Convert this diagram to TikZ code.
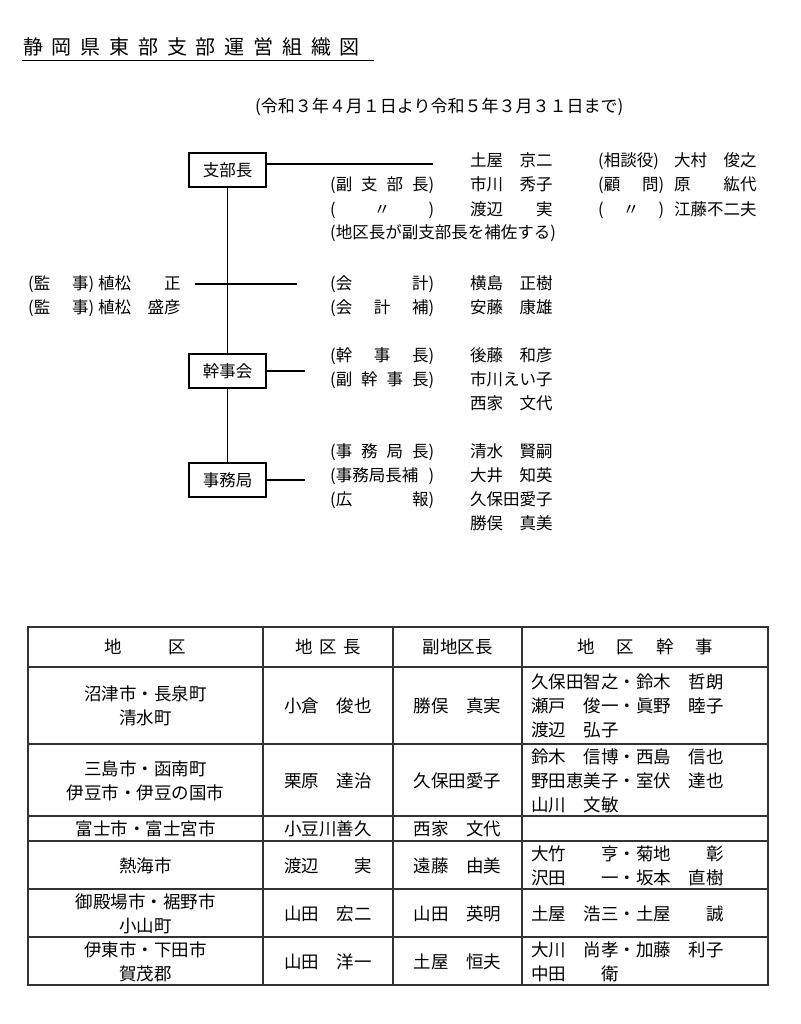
\documentclass[tikz,border=0pt]{standalone}
\usepackage{fontspec}
\setmainfont{Noto Sans CJK JP}

\newcommand*{\orgfont}{\fontsize{16.5}{24}\selectfont}
\newcommand*{\tabfont}{\fontsize{17.5}{24}\selectfont}
\newcommand*{\titlefont}{\fontsize{20}{24}\selectfont}
\newcommand*{\postlbl}[1]{\makebox[6.3em][s]{#1}}
\newcommand*{\sidelbl}[1]{\makebox[4em][s]{#1}}

% table grid
\newcommand*{\tabL}{28}
\newcommand*{\tabA}{263}
\newcommand*{\tabB}{393}
\newcommand*{\tabC}{522}
\newcommand*{\tabR}{768}
\newcommand*{\tabT}{627}
\newcommand*{\tabBot}{985}

\begin{document}
\begin{tikzpicture}
[
	x=1pt, y=-1pt,
	orgbox/.style={draw,line width=1.2pt,minimum width=77pt,minimum height=34pt,inner sep=0pt,font=\orgfont},
	txt/.style={anchor=base west,inner sep=0pt,font=\orgfont},
	titlech/.style={anchor=base,inner sep=0pt,font=\titlefont},
	tabtxt/.style={anchor=base west,inner sep=0pt,font=\tabfont},
	tabmid/.style={anchor=base,inner sep=0pt,font=\tabfont},
	conn/.style={line width=1.2pt},
	grid/.style={line width=1.2pt,black!80}
]

	\useasboundingbox (0,0) rectangle (800,1024);

	% title
	\foreach \ch [count=\i from 0] in {静,岡,県,東,部,支,部,運,営,組,織,図}
		\node[titlech] (title\i) at (33+28.8*\i,54.6) {\ch};
	\coordinate (ul-l) at (22,60.5);
	\coordinate (ul-r) at (374,60.5);
	\draw[conn] (ul-l) -- (ul-r);

	\node[txt,font=\fontsize{17}{24}\selectfont] (term) at (255,113) {(令和３年４月１日より令和５年３月３１日まで)};

	% boxes
	\node[orgbox] (shibucho) at (227.5,170) {支部長};
	\node[orgbox] (kanjikai) at (227.5,371) {幹事会};
	\node[orgbox] (jimukyoku) at (227.5,480) {事務局};

	% connectors
	\coordinate (shibu-end) at (433,164);
	\coordinate (kansa-end) at (195,284);
	\coordinate (kaikei-end) at (297,284);
	\coordinate (kanji-end) at (305,371);
	\coordinate (jimu-end) at (305,480);
	\draw[conn] (shibucho.east |- shibu-end) -- (shibu-end);
	\draw[conn] (shibucho.south) -- (kanjikai.north);
	\draw[conn] (kanjikai.south) -- (jimukyoku.north);
	\draw[conn] (kansa-end) -- (kaikei-end);
	\draw[conn] (kanjikai.east) -- (kanji-end);
	\draw[conn] (jimukyoku.east) -- (jimu-end);

	% branch head
	\node[txt] (n-tsuchiya) at (470,167) {土屋　京二};
	\node[txt] (l-fuku) at (330,191) {\postlbl{(副 支 部 長)}};
	\node[txt] (n-ichikawa) at (470,191) {市川　秀子};
	\node[txt] (l-ditto) at (330,215) {\postlbl{( 〃 )}};
	\node[txt] (n-watanabe) at (470,215) {渡辺　　実};
	\node[txt] (l-hosa) at (330,239) {(地区長が副支部長を補佐する)};
	%
	\node[txt] (l-sodan) at (598,167) {(相談役)};
	\node[txt] (n-omura) at (674,167) {大村　俊之};
	\node[txt] (l-komon) at (598,191) {\sidelbl{(顧 問)}};
	\node[txt] (n-hara) at (674,191) {原　　紘代};
	\node[txt] (l-ditto2) at (598,215) {\sidelbl{( 〃 )}};
	\node[txt] (n-eto) at (674,215) {江藤不二夫};

	% auditors and accounts
	\node[txt] (l-kansa1) at (28,289) {\sidelbl{(監 事)}};
	\node[txt] (n-uematsu1) at (98,289) {植松　　正};
	\node[txt] (l-kansa2) at (28,313) {\sidelbl{(監 事)}};
	\node[txt] (n-uematsu2) at (98,313) {植松　盛彦};
	%
	\node[txt] (l-kaikei) at (330,289) {\postlbl{(会 計)}};
	\node[txt] (n-yokoshima) at (470,289) {横島　正樹};
	\node[txt] (l-kaikeiho) at (330,313) {\postlbl{(会 計 補)}};
	\node[txt] (n-ando) at (470,313) {安藤　康雄};

	% board
	\node[txt] (l-kanjicho) at (330,361) {\postlbl{(幹 事 長)}};
	\node[txt] (n-goto) at (470,361) {後藤　和彦};
	\node[txt] (l-fukukanji) at (330,385) {\postlbl{(副 幹 事 長)}};
	\node[txt] (n-ichikawa2) at (470,385) {市川えい子};
	\node[txt] (n-nishiie) at (470,409) {西家　文代};

	% office
	\node[txt] (l-jimucho) at (330,457) {\postlbl{(事 務 局 長)}};
	\node[txt] (n-shimizu) at (470,457) {清水　賢嗣};
	\node[txt] (l-jimuho) at (330,481) {\postlbl{(事務局長補 )}};
	\node[txt] (n-oi) at (470,481) {大井　知英};
	\node[txt] (l-koho) at (330,505) {\postlbl{(広 報)}};
	\node[txt] (n-kubota) at (470,505) {久保田愛子};
	\node[txt] (n-katsumata) at (470,529) {勝俣　真美};

	% table grid
	\draw[grid] (\tabL,\tabT) rectangle (\tabR,\tabBot);
	\foreach \y in {667,744,816,841,889,937}
		\draw[grid] (\tabL,\y) -- (\tabR,\y);
	\foreach \x in {\tabA,\tabB,\tabC}
		\draw[grid] (\x,\tabT) -- (\x,\tabBot);

	% table header
	\node[tabmid] (h-chiku) at (145.5,653.6) {\makebox[82pt][s]{地 区}};
	\node[tabmid] (h-cho) at (328,653.6) {\makebox[65pt][s]{地 区 長}};
	\node[tabmid] (h-fuku) at (457.5,653.6) {副地区長};
	\node[tabmid] (h-kanji) at (645,653.6) {\makebox[136pt][s]{地 区 幹 事}};

	% row 1
	\node[tabmid] (r1a1) at (145.5,700) {沼津市・長泉町};
	\node[tabmid] (r1a2) at (145.5,724) {清水町};
	\node[tabmid] (r1b) at (328,712) {小倉　俊也};
	\node[tabmid] (r1c) at (457.5,712) {勝俣　真実};
	\node[tabtxt] (r1d1) at (531,688) {久保田智之・鈴木　哲朗};
	\node[tabtxt] (r1d2) at (531,712) {瀬戸　俊一・眞野　睦子};
	\node[tabtxt] (r1d3) at (531,736) {渡辺　弘子};

	% row 2
	\node[tabmid] (r2a1) at (145.5,775) {三島市・函南町};
	\node[tabmid] (r2a2) at (145.5,799) {伊豆市・伊豆の国市};
	\node[tabmid] (r2b) at (328,787) {栗原　達治};
	\node[tabmid] (r2c) at (457.5,787) {久保田愛子};
	\node[tabtxt] (r2d1) at (531,763) {鈴木　信博・西島　信也};
	\node[tabtxt] (r2d2) at (531,787) {野田恵美子・室伏　達也};
	\node[tabtxt] (r2d3) at (531,811) {山川　文敏};

	% row 3
	\node[tabmid] (r3a) at (145.5,835) {富士市・富士宮市};
	\node[tabmid] (r3b) at (328,835) {小豆川善久};
	\node[tabmid] (r3c) at (457.5,835) {西家　文代};

	% row 4
	\node[tabmid] (r4a) at (145.5,872) {熱海市};
	\node[tabmid] (r4b) at (328,872) {渡辺　　実};
	\node[tabmid] (r4c) at (457.5,872) {遠藤　由美};
	\node[tabtxt] (r4d1) at (531,860) {大竹　　亨・菊地　　彰};
	\node[tabtxt] (r4d2) at (531,884) {沢田　　一・坂本　直樹};

	% row 5
	\node[tabmid] (r5a1) at (145.5,908) {御殿場市・裾野市};
	\node[tabmid] (r5a2) at (145.5,932) {小山町};
	\node[tabmid] (r5b) at (328,920) {山田　宏二};
	\node[tabmid] (r5c) at (457.5,920) {山田　英明};
	\node[tabtxt] (r5d) at (531,920) {土屋　浩三・土屋　　誠};

	% row 6
	\node[tabmid] (r6a1) at (145.5,956) {伊東市・下田市};
	\node[tabmid] (r6a2) at (145.5,980) {賀茂郡};
	\node[tabmid] (r6b) at (328,968) {山田　洋一};
	\node[tabmid] (r6c) at (457.5,968) {土屋　恒夫};
	\node[tabtxt] (r6d1) at (531,956) {大川　尚孝・加藤　利子};
	\node[tabtxt] (r6d2) at (531,980) {中田　　衛};

\end{tikzpicture}
\end{document}
